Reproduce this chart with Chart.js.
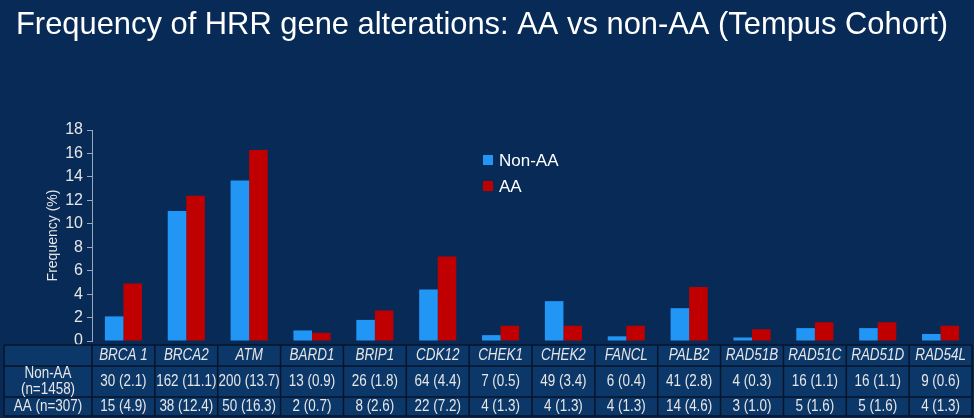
<!DOCTYPE html>
<html>
<head>
<meta charset="utf-8">
<title>HRR gene alterations</title>
<script src="https://cdn.jsdelivr.net/npm/chart.js@4/dist/chart.umd.min.js"></script>
<style>
  html, body { margin: 0; padding: 0; background: #072a57; }
  #wrap { width: 974px; height: 418px; position: relative; }
</style>
</head>
<body>
<div id="wrap"><canvas id="hrrChart" width="974" height="418"></canvas></div>
<script>
// chart data
const genes = ['BRCA 1', 'BRCA2', 'ATM', 'BARD1', 'BRIP1', 'CDK12', 'CHEK1', 'CHEK2', 'FANCL', 'PALB2', 'RAD51B', 'RAD51C', 'RAD51D', 'RAD54L'];
const nonAACounts = [30, 162, 200, 13, 26, 64, 7, 49, 6, 41, 4, 16, 16, 9];
const nonAAPct = [2.1, 11.1, 13.7, 0.9, 1.8, 4.4, 0.5, 3.4, 0.4, 2.8, 0.3, 1.1, 1.1, 0.6];
const aaCounts = [15, 38, 50, 2, 8, 22, 4, 4, 4, 14, 3, 5, 5, 4];
const aaPct = [4.9, 12.4, 16.3, 0.7, 2.6, 7.2, 1.3, 1.3, 1.3, 4.6, 1.0, 1.6, 1.6, 1.3];
const yTicks = [0, 2, 4, 6, 8, 10, 12, 14, 16, 18];
const rowLabels = [['Non-AA', '(n=1458)'], ['AA (n=307)']];

const BLUE = '#2196f5';
const RED = '#c00000';
const TEXT = '#e6e6e6';

// title at top of the slide
const titlePlugin = {
    id: 'slideTitle',
    beforeDraw(chart) {
        const ctx = chart.ctx;
        ctx.save();
        ctx.fillStyle = '#ffffff';
        ctx.font = '32px "Liberation Sans", Arial, sans-serif';
        ctx.textBaseline = 'alphabetic';
        ctx.textAlign = 'left';
        ctx.fillText('Frequency of HRR gene alterations: AA vs non-AA (Tempus Cohort)', 16, 34, 932);
        ctx.restore();
    }
};

// legend drawn inside the plot
const legendPlugin = {
    id: 'insideLegend',
    afterDraw(chart) {
        const ctx = chart.ctx;
        ctx.save();
        ctx.font = '17px "Liberation Sans", Arial, sans-serif';
        ctx.textBaseline = 'middle';
        chart.data.datasets.forEach((ds, i) => {
            const y = 160 + i * 26;
            ctx.fillStyle = ds.backgroundColor;
            ctx.fillRect(483, y - 5, 10, 10);
            ctx.fillStyle = '#ffffff';
            ctx.fillText(ds.label, 499, y + 1);
        });
        ctx.restore();
    }
};

// squeezed text like the slide table
function drawText(ctx, txt, x, y, italic) {
    ctx.save();
    ctx.translate(x, y);
    ctx.scale(0.84, 1);
    ctx.font = (italic ? 'italic ' : '') + '16px "Liberation Sans", Arial, sans-serif';
    ctx.fillText(txt, 0, 0);
    ctx.restore();
}

// data table under the bars, columns follow the x scale
const tablePlugin = {
    id: 'dataTable',
    afterDraw(chart) {
        const ctx = chart.ctx;
        const x = chart.scales.x;
        const half = (x.getPixelForValue(1) - x.getPixelForValue(0)) / 2;
        const rows = [345, 366, 397, 416];
        const left = 4;
        const right = x.getPixelForValue(genes.length - 1) + half;
        ctx.save();
        ctx.fillStyle = '#0c3769';
        ctx.fillRect(left, rows[0], right - left, rows[3] - rows[0]);
        ctx.strokeStyle = '#07152a';
        ctx.lineWidth = 1.5;
        rows.forEach(r => {
            ctx.beginPath();
            ctx.moveTo(left, r);
            ctx.lineTo(right, r);
            ctx.stroke();
        });
        const cols = [left, x.getPixelForValue(0) - half];
        genes.forEach((g, i) => cols.push(x.getPixelForValue(i) + half));
        cols.forEach(c => {
            ctx.beginPath();
            ctx.moveTo(c, rows[0]);
            ctx.lineTo(c, rows[3]);
            ctx.stroke();
        });
        ctx.fillStyle = TEXT;
        ctx.textAlign = 'center';
        ctx.textBaseline = 'middle';
        // row labels
        const lx = (left + cols[1]) / 2;
        drawText(ctx, rowLabels[0][0], lx, 374, false);
        drawText(ctx, rowLabels[0][1], lx, 390, false);
        drawText(ctx, rowLabels[1][0], lx, 407, false);
        genes.forEach((g, i) => {
            const cx = x.getPixelForValue(i);
            drawText(ctx, g, cx, 356, true);
            drawText(ctx, nonAACounts[i] + ' (' + nonAAPct[i].toFixed(1) + ')', cx, 382, false);
            drawText(ctx, aaCounts[i] + ' (' + aaPct[i].toFixed(1) + ')', cx, 407, false);
        });
        ctx.restore();
    }
};

Chart.defaults.font.family = '"Liberation Sans", Arial, sans-serif';

new Chart(document.getElementById('hrrChart'), {
    type: 'bar',
    data: {
        labels: genes,
        datasets: [
            { label: 'Non-AA', data: nonAAPct, backgroundColor: BLUE, borderWidth: 0 },
            { label: 'AA', data: aaPct, backgroundColor: RED, borderWidth: 0 }
        ]
    },
    options: {
        responsive: false,
        animation: false,
        layout: { padding: { left: 0, right: 2, top: 130, bottom: 77 } },
        datasets: { bar: { categoryPercentage: 0.59, barPercentage: 1.0 } },
        plugins: {
            legend: { display: false },
            title: { display: false },
            tooltip: { enabled: false }
        },
        scales: {
            x: { display: false },
            y: {
                min: 0,
                max: 18,
                afterFit(scale) { scale.width = 92; },
                afterBuildTicks(scale) { scale.ticks = yTicks.map(v => ({ value: v })); },
                ticks: { color: TEXT, font: { size: 16 }, padding: 4 },
                grid: { drawOnChartArea: false, drawTicks: true, tickLength: 5, color: '#9aa8bc' },
                border: { display: true, color: '#9aa8bc', width: 1 },
                title: {
                    display: true,
                    text: 'Frequency (%)',
                    color: TEXT,
                    font: { size: 14 },
                    padding: { top: 45, bottom: 0 }
                }
            }
        }
    },
    plugins: [titlePlugin, legendPlugin, tablePlugin]
});
</script>
</body>
</html>
